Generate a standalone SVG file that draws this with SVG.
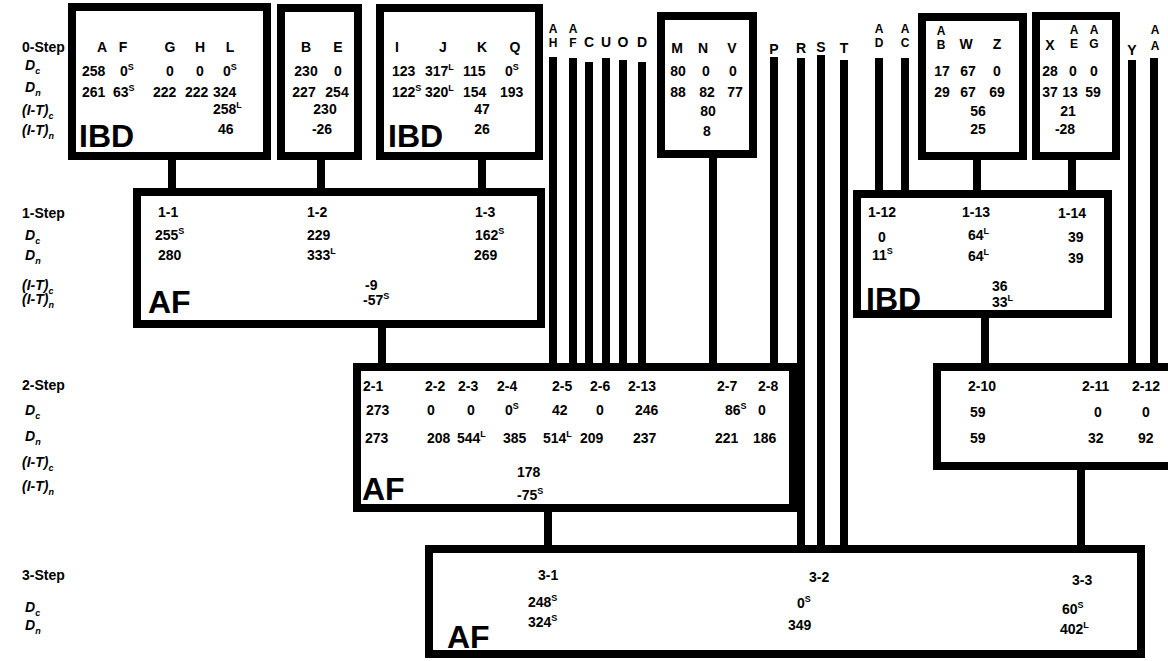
<svg xmlns="http://www.w3.org/2000/svg" width="1168" height="661" viewBox="0 0 1168 661">
<style>
.box{fill:#fff;stroke:#000;stroke-width:8}
.c{stroke:#000;stroke-width:8;fill:none}
text{font-family:"Liberation Sans",Arial,Helvetica,sans-serif;font-weight:bold;font-size:14px;fill:#000}
.m{text-anchor:middle}
.it{font-style:italic}
.s{font-size:9px}
.k{font-size:12px;text-anchor:middle}
.big{font-size:32px}
</style>
<rect width="1168" height="661" fill="#fff"/>

<g id="row-labels">
<text x="22" y="52">0-Step</text>
<text class="it" x="25" y="70">D<tspan class="s" dy="4">c</tspan></text>
<text class="it" x="25" y="92">D<tspan class="s" dy="4">n</tspan></text>
<text class="it" x="22" y="115">(I-T)<tspan class="s" dy="4">c</tspan></text>
<text class="it" x="22" y="135">(I-T)<tspan class="s" dy="4">n</tspan></text>
<text x="22" y="218">1-Step</text>
<text class="it" x="25" y="240">D<tspan class="s" dy="4">c</tspan></text>
<text class="it" x="25" y="260">D<tspan class="s" dy="4">n</tspan></text>
<text class="it" x="22" y="290">(I-T)<tspan class="s" dy="4">c</tspan></text>
<text class="it" x="22" y="304">(I-T)<tspan class="s" dy="4">n</tspan></text>
<text x="22" y="390">2-Step</text>
<text class="it" x="25" y="415">D<tspan class="s" dy="4">c</tspan></text>
<text class="it" x="25" y="441">D<tspan class="s" dy="4">n</tspan></text>
<text class="it" x="22" y="467">(I-T)<tspan class="s" dy="4">c</tspan></text>
<text class="it" x="22" y="491">(I-T)<tspan class="s" dy="4">n</tspan></text>
<text x="22" y="580">3-Step</text>
<text class="it" x="25" y="612">D<tspan class="s" dy="4">c</tspan></text>
<text class="it" x="25" y="630">D<tspan class="s" dy="4">n</tspan></text>
</g>

<g id="connectors">
<line class="c" x1="172" y1="156" x2="172" y2="192"/>
<line class="c" x1="321" y1="156" x2="321" y2="192"/>
<line class="c" x1="482" y1="156" x2="482" y2="192"/>
<line class="c" x1="382" y1="324" x2="382" y2="367"/>
<line class="c" x1="713" y1="154" x2="713" y2="367"/>
<line class="c" x1="553" y1="57" x2="553" y2="367"/>
<line class="c" x1="573" y1="58" x2="573" y2="367"/>
<line class="c" x1="589" y1="62" x2="589" y2="367"/>
<line class="c" x1="606" y1="58" x2="606" y2="367"/>
<line class="c" x1="623" y1="60" x2="623" y2="367"/>
<line class="c" x1="642" y1="62" x2="642" y2="367"/>
<line class="c" x1="774" y1="57" x2="774" y2="367"/>
<line class="c" x1="801" y1="58" x2="801" y2="549"/>
<line class="c" x1="821" y1="55" x2="821" y2="549"/>
<line class="c" x1="844" y1="60" x2="844" y2="549"/>
<line class="c" x1="548" y1="508" x2="548" y2="549"/>
<line class="c" x1="879" y1="58" x2="879" y2="194"/>
<line class="c" x1="905" y1="58" x2="905" y2="194"/>
<line class="c" x1="977" y1="156" x2="977" y2="194"/>
<line class="c" x1="1072" y1="156" x2="1072" y2="194"/>
<line class="c" x1="985" y1="314" x2="985" y2="367"/>
<line class="c" x1="1132" y1="60" x2="1132" y2="367"/>
<line class="c" x1="1154" y1="58" x2="1154" y2="367"/>
<line class="c" x1="1081" y1="466" x2="1081" y2="549"/>
</g>

<g id="leaf-labels">
<g id="leaf-AH"><text class="k" x="553" y="33">A</text><text class="k" x="553" y="47">H</text></g>
<g id="leaf-AF"><text class="k" x="573" y="33">A</text><text class="k" x="573" y="47">F</text></g>
<g id="leaf-C"><text class="m" x="589" y="47">C</text></g>
<g id="leaf-U"><text class="m" x="606" y="47">U</text></g>
<g id="leaf-O"><text class="m" x="623" y="47">O</text></g>
<g id="leaf-D"><text class="m" x="642" y="47">D</text></g>
<g id="leaf-P"><text class="m" x="774" y="54">P</text></g>
<g id="leaf-R"><text class="m" x="801" y="53">R</text></g>
<g id="leaf-S"><text class="m" x="821" y="52">S</text></g>
<g id="leaf-T"><text class="m" x="844" y="53">T</text></g>
<g id="leaf-AD"><text class="k" x="879" y="33">A</text><text class="k" x="879" y="47">D</text></g>
<g id="leaf-AC"><text class="k" x="905" y="33">A</text><text class="k" x="905" y="47">C</text></g>
<g id="leaf-Y"><text class="m" x="1132" y="55">Y</text></g>
<g id="leaf-AA"><text class="k" x="1155" y="34">A</text><text class="k" x="1155" y="50">A</text></g>
</g>

<g id="n0-AFGHL">
<rect class="box" x="72" y="7" width="195" height="149"/>
<text class="m" x="102" y="52">A</text><text class="m" x="123" y="52">F</text><text class="m" x="170" y="52">G</text><text class="m" x="200" y="52">H</text><text class="m" x="230" y="52">L</text>
<text x="82" y="76">258</text><text x="120" y="76">0<tspan class="s" dy="-6">S</tspan></text><text x="166" y="76">0</text><text x="196" y="76">0</text><text x="223" y="76">0<tspan class="s" dy="-6">S</tspan></text>
<text x="82" y="97">261</text><text x="113" y="97">63<tspan class="s" dy="-6">S</tspan></text><text x="153" y="97">222</text><text x="185" y="97">222</text><text x="213" y="97">324</text>
<text x="213" y="114">258<tspan class="s" dy="-6">L</tspan></text>
<text x="218" y="134">46</text>
<text class="big" x="79" y="147">IBD</text>
</g>

<g id="n0-BE">
<rect class="box" x="281" y="8" width="77" height="148"/>
<text class="m" x="306" y="52">B</text><text class="m" x="338" y="52">E</text>
<text class="m" x="306" y="76">230</text><text class="m" x="338" y="76">0</text>
<text class="m" x="304" y="97">227</text><text class="m" x="337" y="97">254</text>
<text class="m" x="325" y="114">230</text>
<text class="m" x="322" y="134">-26</text>
</g>

<g id="n0-IJKQ">
<rect class="box" x="380" y="8" width="159" height="148"/>
<text class="m" x="397" y="52">I</text><text class="m" x="443" y="52">J</text><text class="m" x="482" y="52">K</text><text class="m" x="515" y="52">Q</text>
<text x="392" y="76">123</text><text x="425" y="76">317<tspan class="s" dy="-6">L</tspan></text><text x="463" y="76">115</text><text x="505" y="76">0<tspan class="s" dy="-6">S</tspan></text>
<text x="392" y="97">122<tspan class="s" dy="-6">S</tspan></text><text x="425" y="97">320<tspan class="s" dy="-6">L</tspan></text><text x="463" y="97">154</text><text x="500" y="97">193</text>
<text class="m" x="482" y="114">47</text>
<text class="m" x="482" y="134">26</text>
<text class="big" x="388" y="147">IBD</text>
</g>

<g id="n0-MNV">
<rect class="box" x="661" y="16" width="92" height="138"/>
<text class="m" x="677" y="53">M</text><text class="m" x="703" y="53">N</text><text class="m" x="732" y="53">V</text>
<text class="m" x="678" y="76">80</text><text class="m" x="706" y="76">0</text><text class="m" x="733" y="76">0</text>
<text class="m" x="678" y="97">88</text><text class="m" x="707" y="97">82</text><text class="m" x="735" y="97">77</text>
<text class="m" x="708" y="116">80</text>
<text class="m" x="707" y="136">8</text>
</g>

<g id="n0-ABWZ">
<rect class="box" x="922" y="17" width="101" height="139"/>
<text class="k" x="941" y="35">A</text><text class="k" x="941" y="49">B</text><text class="m" x="966" y="49">W</text><text class="m" x="997" y="49">Z</text>
<text class="m" x="942" y="76">17</text><text class="m" x="968" y="76">67</text><text class="m" x="997" y="76">0</text>
<text class="m" x="942" y="97">29</text><text class="m" x="968" y="97">67</text><text class="m" x="997" y="97">69</text>
<text class="m" x="978" y="116">56</text>
<text class="m" x="978" y="134">25</text>
</g>

<g id="n0-XAEAG">
<rect class="box" x="1036" y="16" width="80" height="140"/>
<text class="m" x="1050" y="50">X</text><text class="k" x="1074" y="34">A</text><text class="k" x="1074" y="48">E</text><text class="k" x="1094" y="34">A</text><text class="k" x="1094" y="48">G</text>
<text class="m" x="1050" y="76">28</text><text class="m" x="1073" y="76">0</text><text class="m" x="1094" y="76">0</text>
<text class="m" x="1050" y="97">37</text><text class="m" x="1070" y="97">13</text><text class="m" x="1093" y="97">59</text>
<text class="m" x="1068" y="116">21</text>
<text class="m" x="1065" y="134">-28</text>
</g>

<g id="n1-AF">
<rect class="box" x="137" y="192" width="404" height="132"/>
<text x="158" y="217">1-1</text><text x="155" y="240">255<tspan class="s" dy="-6">S</tspan></text><text x="158" y="260">280</text>
<text x="307" y="217">1-2</text><text x="307" y="240">229</text><text x="307" y="260">333<tspan class="s" dy="-6">L</tspan></text>
<text x="475" y="217">1-3</text><text x="475" y="240">162<tspan class="s" dy="-6">S</tspan></text><text x="474" y="260">269</text>
<text x="365" y="290">-9</text>
<text x="363" y="305">-57<tspan class="s" dy="-6">S</tspan></text>
<text class="big" x="148" y="313">AF</text>
</g>

<g id="n1-IBD">
<rect class="box" x="857" y="194" width="251" height="120"/>
<text x="868" y="217">1-12</text><text class="m" x="882" y="242">0</text><text x="872" y="260">11<tspan class="s" dy="-6">S</tspan></text>
<text x="962" y="217">1-13</text><text x="968" y="240">64<tspan class="s" dy="-6">L</tspan></text><text x="968" y="261">64<tspan class="s" dy="-6">L</tspan></text>
<text x="1058" y="218">1-14</text><text x="1068" y="242">39</text><text x="1068" y="263">39</text>
<text x="992" y="291">36</text>
<text x="992" y="307">33<tspan class="s" dy="-6">L</tspan></text>
<text class="big" x="866" y="310">IBD</text>
</g>

<g id="n2-AF">
<rect class="box" x="357" y="367" width="436" height="141"/>
<text x="363" y="391">2-1</text><text x="425" y="391">2-2</text><text x="458" y="391">2-3</text><text x="497" y="391">2-4</text><text x="552" y="391">2-5</text><text x="590" y="391">2-6</text><text x="628" y="391">2-13</text><text x="717" y="391">2-7</text><text x="758" y="391">2-8</text>
<text x="366" y="415">273</text><text class="m" x="431" y="415">0</text><text class="m" x="471" y="415">0</text><text x="505" y="415">0<tspan class="s" dy="-6">S</tspan></text><text x="552" y="415">42</text><text class="m" x="600" y="415">0</text><text x="635" y="415">246</text><text x="725" y="415">86<tspan class="s" dy="-6">S</tspan></text><text class="m" x="762" y="415">0</text>
<text x="365" y="443">273</text><text x="427" y="443">208</text><text x="457" y="443">544<tspan class="s" dy="-6">L</tspan></text><text x="503" y="443">385</text><text x="543" y="443">514<tspan class="s" dy="-6">L</tspan></text><text x="580" y="443">209</text><text x="633" y="443">237</text><text x="715" y="443">221</text><text x="753" y="443">186</text>
<text x="517" y="477">178</text>
<text x="517" y="500">-75<tspan class="s" dy="-6">S</tspan></text>
<text class="big" x="362" y="500">AF</text>
</g>

<g id="n2-right">
<rect class="box" x="937" y="367" width="240" height="99"/>
<text x="968" y="391">2-10</text><text x="970" y="417">59</text><text x="970" y="443">59</text>
<text x="1082" y="391">2-11</text><text class="m" x="1098" y="417">0</text><text x="1088" y="443">32</text>
<text x="1132" y="391">2-12</text><text class="m" x="1146" y="417">0</text><text x="1138" y="443">92</text>
</g>

<g id="n3-AF">
<rect class="box" x="429" y="549" width="712" height="105"/>
<text x="538" y="580">3-1</text><text x="528" y="607">248<tspan class="s" dy="-6">S</tspan></text><text x="528" y="627">324<tspan class="s" dy="-6">S</tspan></text>
<text x="809" y="582">3-2</text><text x="797" y="608">0<tspan class="s" dy="-6">S</tspan></text><text x="788" y="630">349</text>
<text x="1072" y="585">3-3</text><text x="1062" y="614">60<tspan class="s" dy="-6">S</tspan></text><text x="1060" y="634">402<tspan class="s" dy="-6">L</tspan></text>
<text class="big" x="447" y="648">AF</text>
</g>
</svg>
